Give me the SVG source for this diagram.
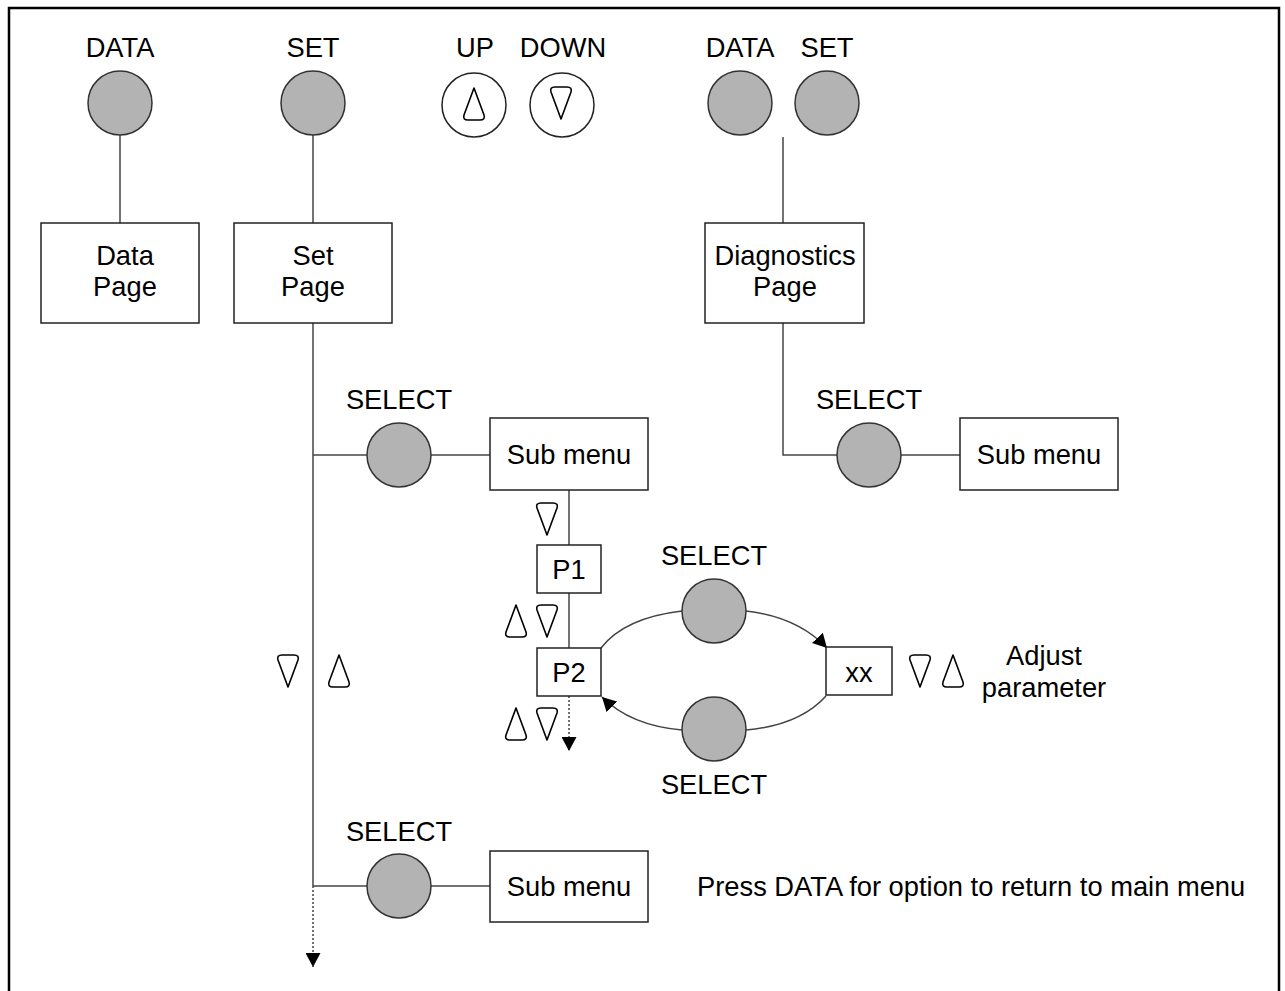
<svg xmlns="http://www.w3.org/2000/svg" xmlns:xlink="http://www.w3.org/1999/xlink" width="1285" height="991" viewBox="0 0 1285 991">
<style>
text{font-family:"Liberation Sans",Arial,sans-serif;font-size:27.3px;fill:#000;text-anchor:middle}
.btn{fill:#b3b3b3;stroke:#333;stroke-width:1.5}
.wbtn{fill:#fff;stroke:#222;stroke-width:1.5}
.box{fill:#fff;stroke:#222;stroke-width:1.5}
.ln{fill:none;stroke:#444;stroke-width:1.5}
.dot{fill:none;stroke:#444;stroke-width:1.5;stroke-dasharray:2,2}
.tri{fill:none;stroke:#000;stroke-width:1.6;stroke-linejoin:round}
</style>
<defs>
<marker id="ah" markerUnits="userSpaceOnUse" markerWidth="15" markerHeight="15" refX="14" refY="7.5" orient="auto">
<path d="M0,0 L14,7.5 L0,15 Z" fill="#000"/>
</marker>
<path id="tu" class="tri" d="M0,-16 L10,11 Q11.5,16 6,16 L-6,16 Q-11.5,16 -10,11 Z"/>
<path id="td" class="tri" d="M0,16 L10,-11 Q11.5,-16 6,-16 L-6,-16 Q-11.5,-16 -10,-11 Z"/>
</defs>
<rect x="9" y="8" width="1270" height="1000" fill="#fff" stroke="#000" stroke-width="2.5"/>

<g id="connectors">
<line class="ln" x1="120" y1="135" x2="120" y2="223"/>
<line class="ln" x1="313" y1="135" x2="313" y2="223"/>
<line class="ln" x1="783" y1="137" x2="783" y2="223"/>
<line class="ln" x1="313" y1="323" x2="313" y2="886"/>
<line class="dot" x1="313" y1="886" x2="313" y2="967" marker-end="url(#ah)"/>
<line class="ln" x1="313" y1="455" x2="367" y2="455"/>
<line class="ln" x1="431" y1="455" x2="490" y2="455"/>
<line class="ln" x1="313" y1="886" x2="367" y2="886"/>
<line class="ln" x1="431" y1="886" x2="490" y2="886"/>
<polyline class="ln" points="783,323 783,455 837,455"/>
<line class="ln" x1="901" y1="455" x2="960" y2="455"/>
<line class="ln" x1="569" y1="490" x2="569" y2="545"/>
<line class="ln" x1="569" y1="593" x2="569" y2="648"/>
<line class="dot" x1="569" y1="696" x2="569" y2="751" marker-end="url(#ah)"/>
<path class="ln" d="M601,648 C618,626 648,615 682,611"/>
<path class="ln" d="M746,611 C780,615 808,628 827,648" marker-end="url(#ah)"/>
<path class="ln" d="M826,696 C808,716 780,727 746,730"/>
<path class="ln" d="M682,730 C648,727 620,715 602,697" marker-end="url(#ah)"/>
</g>

<g id="btn-data">
<text x="120" y="57">DATA</text>
<circle class="btn" cx="120" cy="103" r="32"/>
</g>
<g id="btn-set">
<text x="313" y="57">SET</text>
<circle class="btn" cx="313" cy="103" r="32"/>
</g>
<g id="btn-up">
<text x="475" y="57">UP</text>
<circle class="wbtn" cx="474" cy="105" r="32"/>
<use xlink:href="#tu" x="474" y="104"/>
</g>
<g id="btn-down">
<text x="563" y="57">DOWN</text>
<circle class="wbtn" cx="562" cy="105" r="32"/>
<use xlink:href="#td" x="561" y="103"/>
</g>
<g id="btn-data2">
<text x="740" y="57">DATA</text>
<circle class="btn" cx="740" cy="103" r="32"/>
</g>
<g id="btn-set2">
<text x="827" y="57">SET</text>
<circle class="btn" cx="827" cy="103" r="32"/>
</g>

<g id="data-page">
<rect class="box" x="41" y="223" width="158" height="100"/>
<text x="125" y="265">Data</text>
<text x="125" y="296">Page</text>
</g>
<g id="set-page">
<rect class="box" x="234" y="223" width="158" height="100"/>
<text x="313" y="265">Set</text>
<text x="313" y="296">Page</text>
</g>
<g id="diag-page">
<rect class="box" x="705" y="223" width="159" height="100"/>
<text x="785" y="265">Diagnostics</text>
<text x="785" y="296">Page</text>
</g>

<g id="select1">
<text x="399" y="409">SELECT</text>
<circle class="btn" cx="399" cy="455" r="32"/>
</g>
<g id="submenu1">
<rect class="box" x="490" y="418" width="158" height="72"/>
<text x="569" y="464">Sub menu</text>
</g>
<g id="select-diag">
<text x="869" y="409">SELECT</text>
<circle class="btn" cx="869" cy="455" r="32"/>
</g>
<g id="submenu-diag">
<rect class="box" x="960" y="418" width="158" height="72"/>
<text x="1039" y="464">Sub menu</text>
</g>

<g id="p1">
<rect class="box" x="537" y="545" width="64" height="48"/>
<text x="569" y="579">P1</text>
</g>
<g id="p2">
<rect class="box" x="537" y="648" width="64" height="48"/>
<text x="569" y="682">P2</text>
</g>
<g id="select-top">
<text x="714" y="565">SELECT</text>
<circle class="btn" cx="714" cy="611" r="32"/>
</g>
<g id="select-bottom">
<circle class="btn" cx="714" cy="729" r="32"/>
<text x="714" y="794">SELECT</text>
</g>
<g id="xx">
<rect class="box" x="826" y="647" width="66" height="48"/>
<text x="859" y="682">xx</text>
</g>

<g id="arrows-symbols">
<use xlink:href="#td" x="547" y="519"/>
<use xlink:href="#tu" x="516" y="621"/>
<use xlink:href="#td" x="547" y="621"/>
<use xlink:href="#tu" x="516" y="724"/>
<use xlink:href="#td" x="547" y="724"/>
<use xlink:href="#td" x="288" y="671"/>
<use xlink:href="#tu" x="339" y="671"/>
<use xlink:href="#td" x="920" y="671"/>
<use xlink:href="#tu" x="953" y="671"/>
</g>
<g id="adjust-label">
<text x="1044" y="665">Adjust</text>
<text x="1044" y="697">parameter</text>
</g>

<g id="select2">
<text x="399" y="841">SELECT</text>
<circle class="btn" cx="399" cy="886" r="32"/>
</g>
<g id="submenu2">
<rect class="box" x="490" y="851" width="158" height="71"/>
<text x="569" y="896">Sub menu</text>
</g>
<g id="note">
<text x="697" y="896" style="text-anchor:start">Press DATA for option to return to main menu</text>
</g>
</svg>
